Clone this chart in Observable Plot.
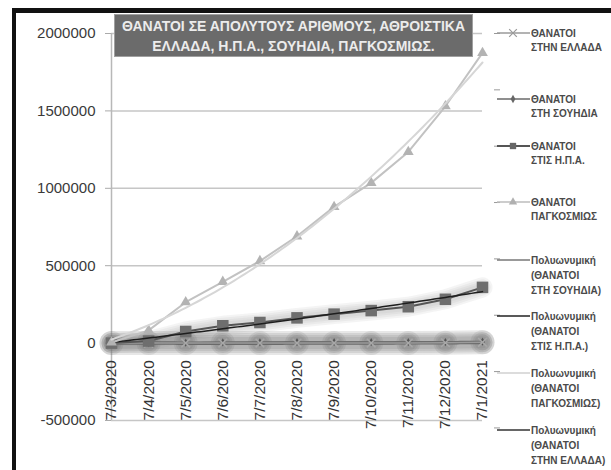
<!DOCTYPE html>
<html><head><meta charset="utf-8">
<script src="https://cdn.jsdelivr.net/npm/d3@7"></script>
<script src="https://cdn.jsdelivr.net/npm/@observablehq/plot@0.6"></script>
<style>
body{margin:0;background:#fff;}
#wrap{position:relative;width:611px;height:470px;overflow:hidden;font-family:"Liberation Sans",Arial,sans-serif;}
#frame{position:absolute;left:12px;top:8px;width:620px;height:480px;border-left:4px solid #111;border-top:5px solid #111;}
#chart{position:absolute;left:0;top:0;}
#title{position:absolute;left:114px;top:14px;width:359px;height:43px;background:#6b6b6b;color:#ececec;font-weight:bold;font-size:14px;text-align:center;line-height:20px;padding-top:1px;box-sizing:border-box;border:1px solid #a0a0a0;white-space:nowrap;}
#legend{position:absolute;left:0;top:0;}
</style></head>
<body>
<div id="wrap">
  <div id="frame"></div>
  <div id="chart"></div>
  <div id="title">ΘΑΝΑΤΟΙ ΣΕ ΑΠΟΛΥΤΟΥΣ ΑΡΙΘΜΟΥΣ, ΑΘΡΟΙΣΤΙΚΑ<br>ΕΛΛΑΔΑ, Η.Π.Α., ΣΟΥΗΔΙΑ, ΠΑΓΚΟΣΜΙΩΣ.</div>
</div>
<script>
const dates = ["7/3/2020","7/4/2020","7/5/2020","7/6/2020","7/7/2020","7/8/2020","7/9/2020","7/10/2020","7/11/2020","7/12/2020","7/1/2021"];
const greece = [0, 74, 146, 180, 192, 210, 279, 396, 673, 2406, 4921];
const sweden = [0, 591, 2941, 4659, 5447, 5766, 5838, 5893, 6022, 7067, 9262];
const usa    = [0, 13000, 75000, 112000, 133000, 163000, 187000, 210000, 235000, 283000, 360000];
const world  = [4000, 82000, 264000, 396000, 530000, 690000, 880000, 1035000, 1235000, 1530000, 1875000];
const yTicks = [-500000, 0, 500000, 1000000, 1500000, 2000000];

const legendItems = [
  {lines:["ΘΑΝΑΤΟΙ","ΣΤΗΝ ΕΛΛΑΔΑ"], stroke:"#9a9a9a", sw:1.5, symbol:"times"},
  {lines:["ΘΑΝΑΤΟΙ","ΣΤΗ ΣΟΥΗΔΙΑ"], stroke:"#6a6a6a", sw:1.5, symbol:"diamond"},
  {lines:["ΘΑΝΑΤΟΙ","ΣΤΙΣ Η.Π.Α."], stroke:"#555", sw:2, symbol:"square"},
  {lines:["ΘΑΝΑΤΟΙ","ΠΑΓΚΟΣΜΙΩΣ"], stroke:"#bdbdbd", sw:1.5, symbol:"triangle"},
  {lines:["Πολυωνυμική","(ΘΑΝΑΤΟΙ","ΣΤΗ ΣΟΥΗΔΙΑ)"], stroke:"#777", sw:1.5},
  {lines:["Πολυωνυμική","(ΘΑΝΑΤΟΙ","ΣΤΙΣ Η.Π.Α.)"], stroke:"#222", sw:1.5},
  {lines:["Πολυωνυμική","(ΘΑΝΑΤΟΙ","ΠΑΓΚΟΣΜΙΩΣ)"], stroke:"#d0d0d0", sw:1.5},
  {lines:["Πολυωνυμική","(ΘΑΝΑΤΟΙ","ΣΤΗΝ ΕΛΛΑΔΑ)"], stroke:"#666", sw:2}
];

// least-squares polynomial (order 2) trendline, as in a spreadsheet "Πολυωνυμική" trend
function polyfit(ys, deg) {
  const n = deg + 1;
  const A = Array.from({length:n}, () => new Array(n).fill(0));
  const b = new Array(n).fill(0);
  ys.forEach((y, i) => {
    const x = i + 1;
    for (let r = 0; r < n; r++) {
      for (let c = 0; c < n; c++) A[r][c] += Math.pow(x, r + c);
      b[r] += y * Math.pow(x, r);
    }
  });
  for (let k = 0; k < n; k++) {
    for (let r = k + 1; r < n; r++) {
      const f = A[r][k] / A[k][k];
      for (let c = k; c < n; c++) A[r][c] -= f * A[k][c];
      b[r] -= f * b[k];
    }
  }
  const coef = new Array(n).fill(0);
  for (let r = n - 1; r >= 0; r--) {
    let s = b[r];
    for (let c = r + 1; c < n; c++) s -= A[r][c] * coef[c];
    coef[r] = s / A[r][r];
  }
  return coef;
}
function trend(ys) {
  const c = polyfit(ys, 2);
  return d3.range(0, 10.0001, 0.1).map(t => {
    const x = t + 1;
    return {x: t, y: c[0] + c[1] * x + c[2] * x * x};
  });
}
const idx = d3.range(dates.length);
const pts = ys => idx.map(i => ({x: i, y: ys[i]}));
const secondaryTicks = d3.range(8).map(i => 2000000 - i * 364000);

// soft "glow" built from stacked translucent strokes
const glowLine = (ys, color, widths, op) => widths.map(w =>
  Plot.line(pts(ys), {x: "x", y: "y", stroke: color, strokeWidth: w, strokeOpacity: op, strokeLinecap: "round", strokeLinejoin: "round"}));
const glowDots = (ys, color, radii, op) => radii.map(r =>
  Plot.dot(pts(ys), {x: "x", y: "y", r, fill: color, fillOpacity: op}));

const plot = Plot.plot({
  width: 611, height: 470,
  marginLeft: 111, marginRight: 129, marginTop: 33, marginBottom: 50,
  style: {fontFamily: "Liberation Sans, Arial, sans-serif", background: "transparent"},
  x: {domain: [0, 10], axis: null},
  y: {domain: [-500000, 2000000], axis: null},
  marks: [
    Plot.ruleY(yTicks, {stroke: "#c6c6c6", strokeWidth: 1.5}),
    Plot.ruleX([0], {y1: -500000, y2: 2000000, stroke: "#b8b8b8", strokeWidth: 1.5}),
    Plot.axisY(yTicks, {anchor: "left", tickSize: 6, tickPadding: 10, tickFormat: d => String(d), fontSize: 15, fill: "#3a3a3a", stroke: "#aaa", label: null}),
    Plot.axisY(secondaryTicks, {anchor: "right", tickSize: 6, tickFormat: () => "", dx: 11, stroke: "#999", label: null}),
    // glow effects
    ...glowLine(usa, "#a4a4a4", [20, 16, 12, 8], 0.12),
    ...glowLine(greece, "#7a7a7a", [24, 20, 16, 12], 0.18),
    ...glowDots(greece, "#6e6e6e", [12, 10, 8], 0.15),
    // Greece & Sweden
    Plot.line(trend(greece), {x: "x", y: "y", stroke: "#6a6a6a", strokeWidth: 3.5}),
    Plot.line(trend(sweden), {x: "x", y: "y", stroke: "#777", strokeWidth: 1.5}),
    Plot.line(pts(sweden), {x: "x", y: "y", stroke: "#6a6a6a", strokeWidth: 1.5}),
    Plot.dot(pts(sweden), {x: "x", y: "y", symbol: "diamond", r: 2.5, fill: "#555"}),
    Plot.line(pts(greece), {x: "x", y: "y", stroke: "#9a9a9a", strokeWidth: 1.5}),
    Plot.dot(pts(greece), {x: "x", y: "y", symbol: "times", r: 4, stroke: "#a8a8a8", strokeWidth: 1.5}),
    // USA
    Plot.line(pts(usa), {x: "x", y: "y", stroke: "#555", strokeWidth: 2}),
    Plot.dot(pts(usa), {x: "x", y: "y", symbol: "square", r: 6.5, fill: "#6e6e6e"}),
    Plot.line(trend(usa), {x: "x", y: "y", stroke: "#1e1e1e", strokeWidth: 1.5}),
    // World
    Plot.line(pts(world), {x: "x", y: "y", stroke: "#c2c2c2", strokeWidth: 2}),
    Plot.dot(pts(world), {x: "x", y: "y", symbol: "triangle", r: 4, fill: "#b3b3b3"}),
    Plot.line(trend(world), {x: "x", y: "y", stroke: "#d6d6d6", strokeWidth: 2}),
    // x tick labels under the zero line
    Plot.text(idx, {x: i => i, y: () => 0, text: i => dates[i], rotate: -90, textAnchor: "end", dy: 17, fontSize: 15.5, fill: "#333"})
  ]
});
document.getElementById("chart").appendChild(plot);

// legend
const legendY = [33, 99, 146, 202, 260, 316, 373, 430];
const lg = d3.select("#wrap").append("svg").attr("id", "legend").attr("width", 611).attr("height", 470);
legendItems.forEach((it, k) => {
  const y = legendY[k];
  const g = lg.append("g");
  g.append("line").attr("x1", 497).attr("x2", 530).attr("y1", y).attr("y2", y).attr("stroke", it.stroke).attr("stroke-width", it.sw);
  if (it.symbol) {
    const sym = {times: d3.symbolTimes, diamond: d3.symbolDiamond, square: d3.symbolSquare, triangle: d3.symbolTriangle}[it.symbol];
    const size = {times: 40, diamond: 20, square: 40, triangle: 30}[it.symbol];
    const p = g.append("path").attr("transform", `translate(513,${y})`).attr("d", d3.symbol(sym, size)());
    if (it.symbol === "times") p.attr("fill", "none").attr("stroke", it.stroke).attr("stroke-width", 1.2);
    else p.attr("fill", it.symbol === "triangle" ? "#b0b0b0" : "#666");
  }
  it.lines.forEach((t, j) => {
    g.append("text").attr("x", 531).attr("y", y + j * (it.lines.length > 2 ? 15 : 14)).attr("dy", "0.35em")
      .attr("font-size", 10).attr("font-weight", "bold").attr("fill", "#4a4a4a")
      .attr("font-family", "Liberation Sans, Arial, sans-serif").text(t);
  });
});
</script>
</body></html>
